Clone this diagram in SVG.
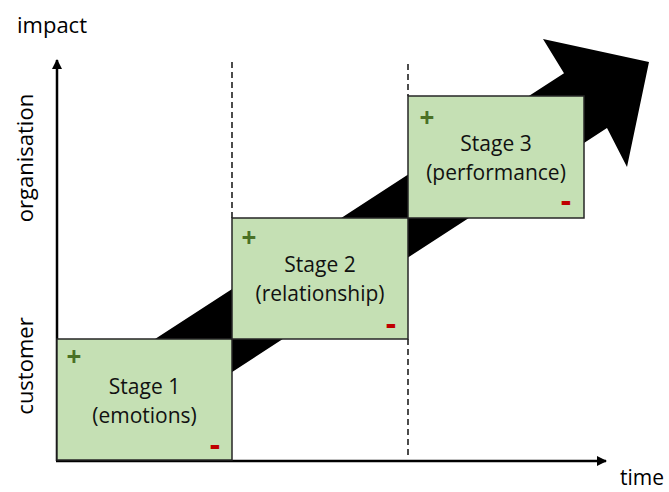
<svg xmlns="http://www.w3.org/2000/svg" width="669" height="492" viewBox="0 0 669 492">
<style>
.lbl{font-family:"Open Sans","DejaVu Sans",sans-serif;font-size:22px;fill:#000}
.st{font-family:"Open Sans","DejaVu Sans",sans-serif;font-size:21px;fill:#111;text-anchor:middle}
.box{fill:#c5e0b4;stroke:#262626;stroke-width:1.5}
.plus{font-family:"Open Sans","DejaVu Sans",sans-serif;font-size:26px;font-weight:bold;fill:#4a7125;text-anchor:middle}
.minus{font-family:"Open Sans","DejaVu Sans",sans-serif;font-size:32px;font-weight:bold;fill:#c00000;text-anchor:middle}
.dash{stroke:#000;stroke-width:1.4;stroke-dasharray:6,4;fill:none}
.axis{stroke:#000;stroke-width:2.5;fill:none}
</style>
<defs>
<marker id="ah" viewBox="0 0 10 10" refX="9" refY="5" markerWidth="4" markerHeight="4" orient="auto" markerUnits="strokeWidth">
<path d="M0,0 L10,5 L0,10 z" fill="#000"/>
</marker>
</defs>
<g id="big-arrow">
<polygon points="140,348.8 564,73.2 543,39 649,62 627,167 607,128 178,407.2" fill="#000"/>
</g>
<g id="connectors">
<line class="axis" x1="57" y1="461" x2="57" y2="60" marker-end="url(#ah)"/>
<line class="axis" x1="56" y1="461" x2="606" y2="461" marker-end="url(#ah)"/>
<line class="dash" x1="232" y1="62" x2="232" y2="218"/>
<line class="dash" x1="408" y1="64" x2="408" y2="96"/>
<line class="dash" x1="408" y1="339" x2="408" y2="456"/>
</g>
<g id="stage1">
<rect class="box" x="57" y="339" width="175" height="121"/>
<text class="plus" x="74" y="366">+</text>
<text class="st" x="144.5" y="394">Stage 1</text>
<text class="st" x="144.5" y="423">(emotions)</text>
<text class="minus" x="215" y="456">-</text>
</g>
<g id="stage2">
<rect class="box" x="232" y="218" width="176" height="121"/>
<text class="plus" x="249" y="247">+</text>
<text class="st" x="320" y="272">Stage 2</text>
<text class="st" x="320" y="301">(relationship)</text>
<text class="minus" x="391" y="335">-</text>
</g>
<g id="stage3">
<rect class="box" x="408" y="96" width="176" height="122"/>
<text class="plus" x="427" y="127">+</text>
<text class="st" x="496" y="151">Stage 3</text>
<text class="st" x="496" y="180">(performance)</text>
<text class="minus" x="566" y="212">-</text>
</g>
<g id="labels">
<text class="lbl" x="17" y="33">impact</text>
<text class="lbl" x="664" y="485" text-anchor="end" style="font-size:21px">time</text>
<text class="lbl" transform="translate(33,158) rotate(-90)" text-anchor="middle">organisation</text>
<text class="lbl" transform="translate(33,366) rotate(-90)" text-anchor="middle">customer</text>
</g>
</svg>
